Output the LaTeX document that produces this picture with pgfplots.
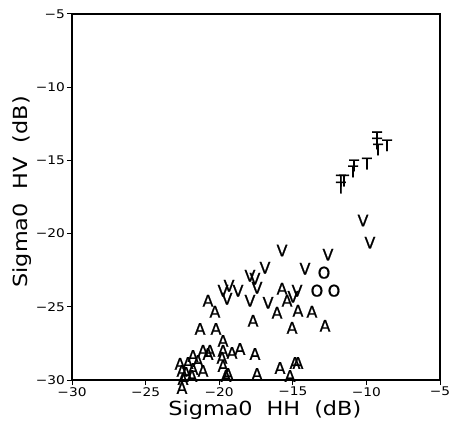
\documentclass[border=0pt]{standalone}
\usepackage{fontspec}
\setmainfont{DejaVu Sans}
\setsansfont{DejaVu Sans}
\newfontfamily\labfont[FakeStretch=1.15]{DejaVu Sans}
\newfontfamily\markfont[FakeBold=1]{DejaVu Sans}
\usepackage{pgfplots}
\pgfplotsset{compat=1.18}
\begin{document}
\begin{tikzpicture}
\path[use as bounding box] (-72bp,-46bp) rectangle (382bp,380bp);
\begin{axis}[
  at={(0,0)}, anchor=south west,
  scale only axis, width=368bp, height=366bp,
  xmin=-30, xmax=-5, ymin=-30, ymax=-5,
  xtick={-30,-25,-20,-15,-10,-5},
  ytick={-30,-25,-20,-15,-10,-5},
  xticklabels={−30,−25,−20,−15,−10,−5},
  yticklabels={−30,−25,−20,−15,−10,−5},
  tick label style={font=\labfont\fontsize{12}{12}\selectfont},
  tick align=outside, xtick pos=left, ytick pos=left,
  major tick length=5bp,
  axis line style={line width=1.3pt},
  tick style={line width=1pt, black},
  clip=false,
  yticklabel style={inner sep=2pt},
  xticklabel style={inner sep=2pt},
  xlabel={Sigma0\hspace{14bp}HH\hspace{14bp}(dB)},
  ylabel={Sigma0\hspace{14bp}HV\hspace{14bp}(dB)},
  label style={font=\labfont\fontsize{19.5}{20}\selectfont, inner sep=0pt},
  xlabel style={at={(axis description cs:0.524,0)}, anchor=north, yshift=-21bp},
  ylabel style={at={(axis description cs:0,0.514)}, anchor=north, yshift=59bp},
  text mark as node=true,
  text mark style={font=\markfont\fontsize{16}{16}\selectfont, inner sep=0pt},
]
\addplot[only marks, mark=text, text mark=A] coordinates {
(-21.30,-26.51) (-20.22,-26.51) (-20.76,-24.59) (-20.29,-25.34)
(-17.70,-25.96) (-16.07,-25.41) (-15.73,-23.77) (-15.39,-24.59)
(-14.65,-25.27) (-13.70,-25.34) (-15.05,-26.44) (-12.81,-26.30)
(-19.74,-27.33) (-19.74,-28.01) (-19.81,-28.49) (-19.74,-29.04)
(-21.10,-28.01) (-20.63,-28.01) (-20.76,-28.22) (-21.78,-28.36)
(-22.12,-28.84) (-22.66,-28.90) (-22.53,-29.38) (-22.46,-29.93)
(-22.53,-30.55) (-21.78,-29.25) (-21.10,-29.38) (-21.44,-28.70)
(-19.13,-28.15) (-18.59,-27.88) (-17.57,-28.22) (-19.40,-29.59)
(-19.54,-29.73) (-17.43,-29.59) (-15.87,-29.18) (-15.19,-29.73)
(-14.85,-28.84) (-14.65,-28.84) (-21.85,-29.73) (-22.25,-29.52)
};
\addplot[only marks, mark=text, text mark=V] coordinates {
(-10.23,-19.11) (-9.76,-20.62) (-12.61,-21.44) (-15.73,-21.16)
(-14.17,-22.40) (-16.89,-22.33) (-17.91,-22.88) (-17.57,-23.08)
(-17.43,-23.70) (-19.74,-23.90) (-19.33,-23.56) (-18.72,-23.90)
(-19.47,-24.45) (-17.91,-24.59) (-16.68,-24.73) (-14.71,-23.90)
(-14.99,-24.32)
};
\addplot[only marks, mark=text, text mark=O] coordinates {
(-12.88,-22.67) (-13.36,-23.90) (-12.20,-23.90)
};
\addplot[only marks, mark=text, text mark=T] coordinates {
(-9.28,-13.42) (-9.28,-13.84) (-9.21,-14.25) (-8.60,-13.97)
(-9.96,-15.21) (-10.84,-15.34) (-10.91,-15.75) (-11.73,-16.37)
(-11.52,-16.37) (-11.73,-16.85)
};
\end{axis}
\end{tikzpicture}
\end{document}
